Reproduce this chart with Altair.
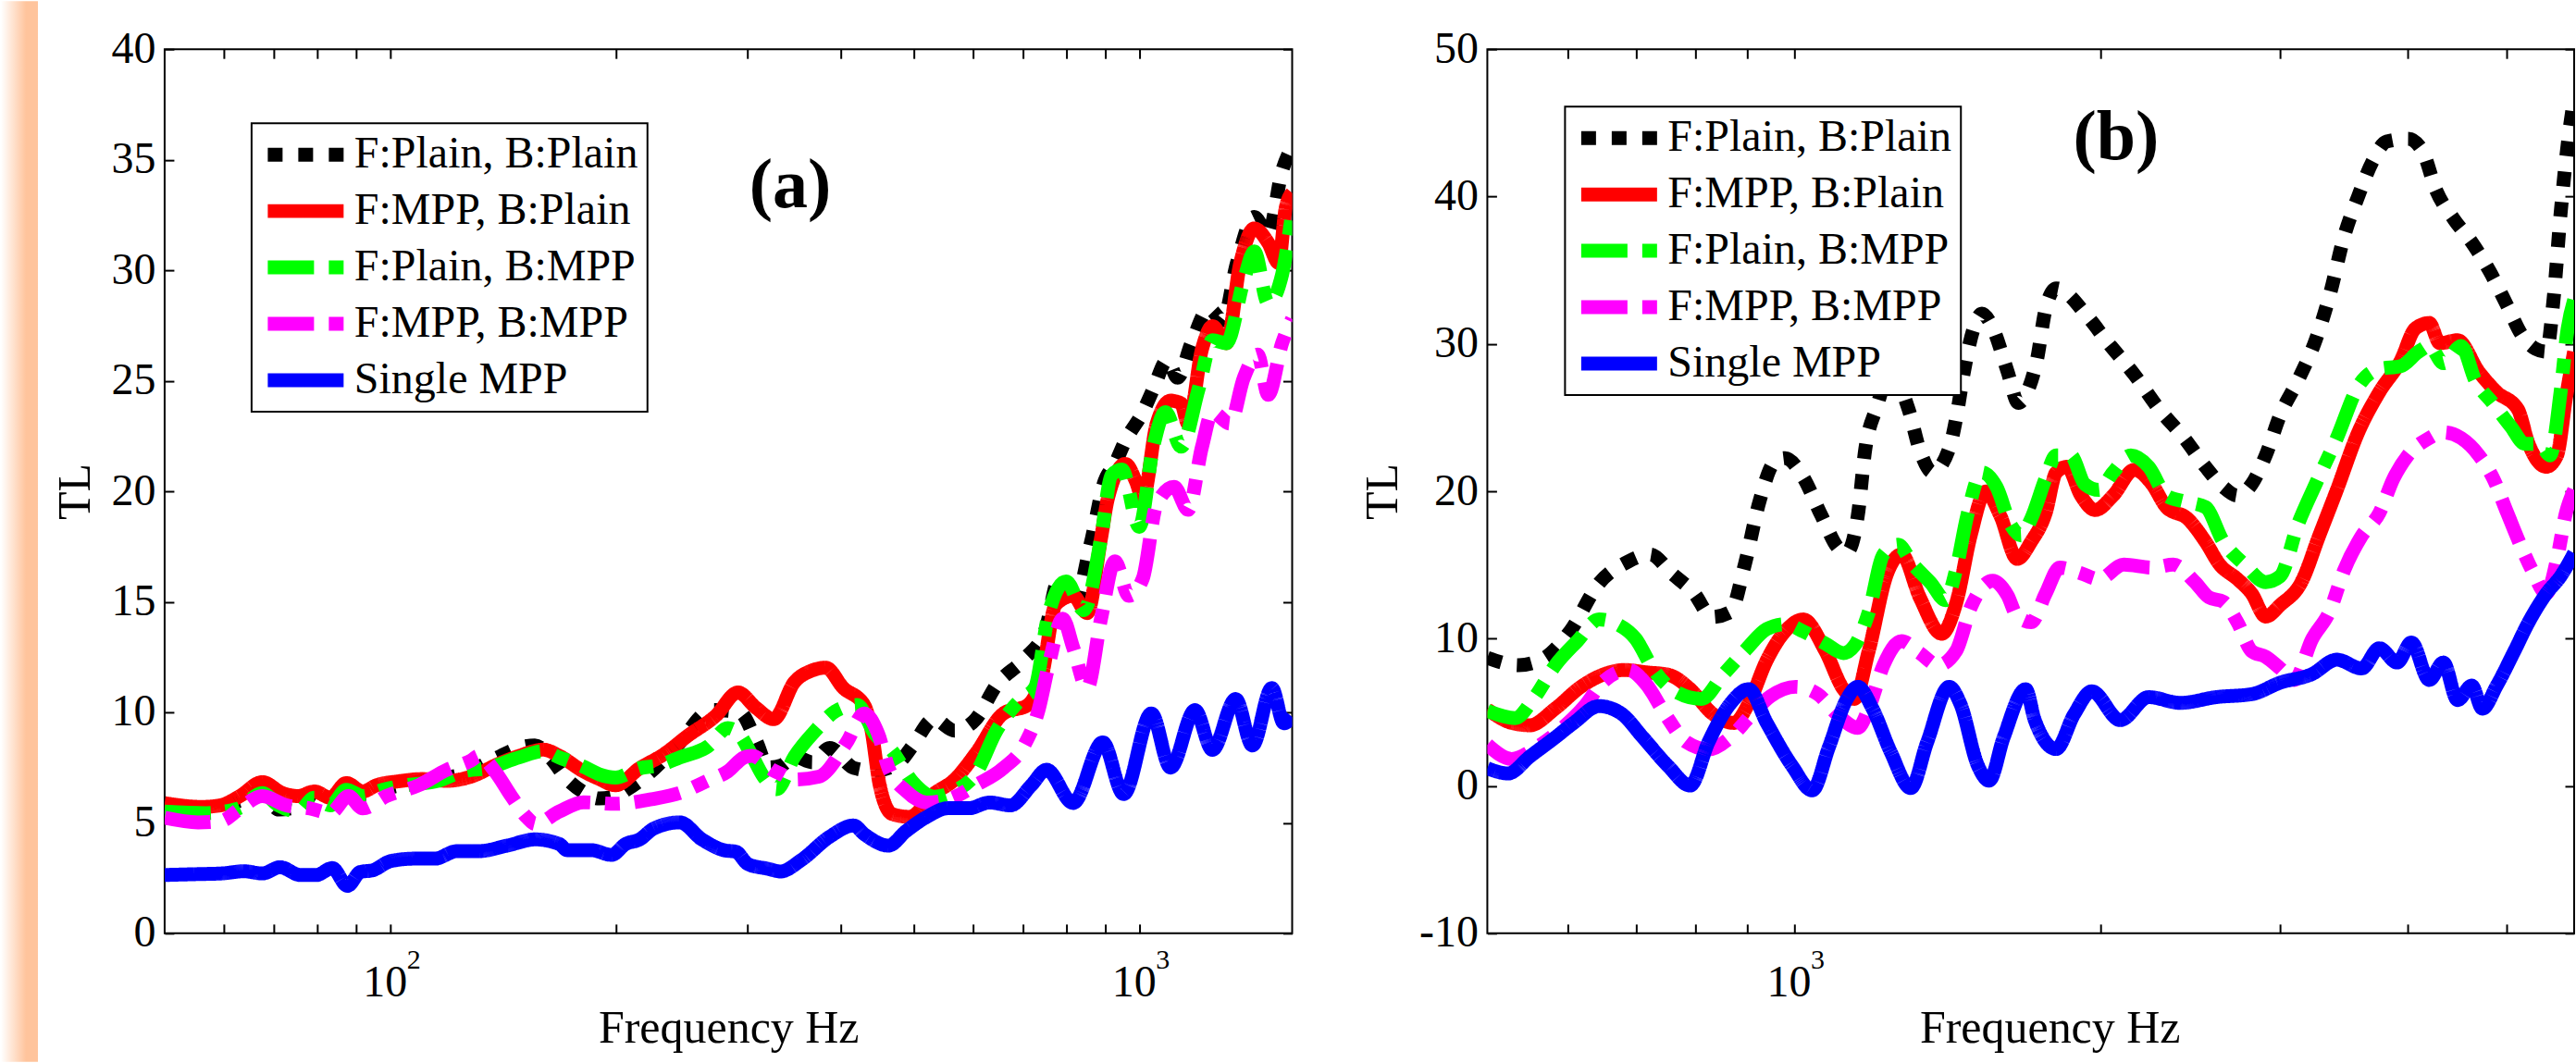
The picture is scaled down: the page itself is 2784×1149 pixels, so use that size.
import altair as alt
import pandas as pd

FONT = "Liberation Serif"

SERIES = ["F:Plain, B:Plain", "F:MPP, B:Plain", "F:Plain, B:MPP", "F:MPP, B:MPP", "Single MPP"]
COLORS = ["#000000", "#ff0000", "#00ff00", "#ff00ff", "#0000ff"]
DASHES = [[16, 17], [1, 0], [50, 16, 16, 16], [50, 16, 16, 16], [1, 0]]

# ---------------- panel (a): [frequency Hz, TL] ----------------
A_PLAIN_PLAIN = [(50, 5.7), (56, 5.6), (63, 6.0), (67.5, 6.4), (71, 5.6), (76, 5.8), (79, 6.2), (83, 5.8),
    (87, 6.6), (92, 6.3), (100, 6.6), (110, 6.9), (125, 7.2), (140, 8.0), (149, 8.4), (156, 8.5), (164, 7.9),
    (172, 7.0), (181, 6.4), (190, 6.1), (200, 6.2), (207, 6.5), (221, 7.2), (241, 8.45), (269, 10.1), (293, 10.0),
    (308, 8.7), (320, 7.5), (333, 7.6), (346.5, 8.0), (366, 7.74), (386, 8.39), (416, 7.48), (443, 7.35),
    (478, 7.74), (499, 8.52), (532, 9.69), (567, 9.17), (605, 9.69), (645, 11.24), (702, 12.41), (749, 13.71),
    (782, 16.05), (816, 14.75), (861, 17.61), (899, 20.46), (928, 21.24), (958, 22.28), (1011, 23.58),
    (1044, 24.62), (1090, 25.92), (1125, 25.14), (1174, 26.7), (1239, 28.25), (1293, 27.73), (1350, 30.33),
    (1424, 32.41), (1486, 31.63), (1551, 34.49), (1600, 35.6)]
A_MPP_PLAIN = [(50, 5.89), (56, 5.72), (59.3, 5.79), (63, 6.21), (67.5, 6.84), (71.8, 6.35), (75.4, 6.21),
    (79.2, 6.42), (83.2, 6.14), (87.4, 6.8), (91.9, 6.42), (95.9, 6.7), (102.7, 6.88), (110.5, 6.98), (119.1, 6.9),
    (128.2, 7.09), (139.8, 7.68), (148.7, 8.03), (160.1, 8.31), (168.2, 8.03), (181.1, 7.33), (190.3, 6.98),
    (199.9, 6.7), (215.3, 7.47), (231.9, 8.1), (249.7, 8.94), (272.2, 9.85), (291.3, 10.9), (308, 10.2),
    (325, 9.69), (346.5, 11.37), (365.6, 11.89), (381.5, 12.02), (402.5, 11.11), (429.3, 10.33), (438.5, 9.3),
    (450.4, 6.7), (467.7, 5.4), (493.4, 5.27), (531.8, 6.31), (567.1, 6.96), (604.8, 8.13), (658.8, 9.95),
    (710.1, 10.33), (741.2, 11.63), (773.6, 14.88), (816.2, 15.27), (852.1, 14.49), (889.1, 17.87),
    (908.2, 19.68), (958.3, 21.24), (989.5, 20.46), (1010.9, 19.68), (1055.1, 23.06), (1101.3, 24.1),
    (1137.4, 23.97), (1162, 23.06), (1212.9, 26.44), (1252.4, 27.47), (1307.1, 26.7), (1364.3, 30.33),
    (1424, 31.89), (1486.4, 31.24), (1535, 30.33), (1568.2, 32.8), (1600, 33.5)]
A_PLAIN_MPP = [(50, 5.51), (56.8, 5.44), (62.7, 5.65), (67.5, 6.35), (70.9, 5.79), (75.4, 5.51), (79.2, 6.14),
    (83.2, 5.79), (87.4, 6.49), (91.9, 6.21), (97.7, 6.49), (105.2, 6.7), (116.1, 6.91), (125.1, 7.33),
    (134.7, 7.47), (148.7, 7.96), (160.1, 8.24), (168.2, 7.96), (181.1, 7.54), (190.3, 7.19), (199.9, 7.05),
    (215.3, 7.47), (229, 7.61), (243.6, 7.96), (265.5, 8.45), (282.4, 9.29), (291.3, 9.08), (304.2, 8.03),
    (315.6, 7.05), (328, 6.52), (346.5, 8.0), (369.5, 9.17), (394, 10.07), (420.2, 10.33), (443.3, 9.04),
    (467.7, 8.26), (498.7, 6.83), (531.8, 6.18), (567.1, 6.44), (604.8, 7.22), (644.9, 9.17), (695, 10.59),
    (725.5, 11.11), (757.2, 14.49), (798.9, 15.92), (843, 14.62), (889.1, 17.87), (918.1, 20.72), (948, 20.98),
    (1000.2, 18.39), (1044, 22.02), (1083.7, 23.58), (1137.4, 22.02), (1199.9, 24.62), (1252.4, 26.83),
    (1307.1, 26.7), (1379.2, 29.55), (1424, 30.85), (1486.4, 28.51), (1551.3, 29.81), (1600, 32.6)]
A_MPP_MPP = [(50, 5.23), (55.4, 5.02), (59.6, 5.09), (62.7, 5.58), (67.5, 6.21), (72.7, 5.79), (78.2, 5.65),
    (83.2, 5.44), (88, 6.21), (91.9, 5.65), (98.9, 6.21), (109.2, 6.7), (119.1, 7.4), (128.2, 7.82),
    (131.4, 8.03), (138, 7.33), (145.1, 6.21), (152.4, 5.23), (156.2, 4.95), (168.2, 5.51), (181.1, 5.93),
    (199.9, 5.86), (223.4, 6.07), (243.6, 6.35), (265.5, 6.91), (282.4, 7.33), (296.8, 7.96), (304.2, 8.03),
    (323.6, 7.4), (332, 7.22), (346.5, 6.96), (373.5, 7.09), (406.9, 8.64), (429.3, 9.95), (448, 9.04),
    (462.7, 7.48), (488.1, 6.44), (520.5, 5.92), (555.1, 6.05), (604.8, 6.7), (658.8, 7.48), (702.5, 8.52),
    (733.3, 10.07), (757.2, 12.15), (790.4, 14.23), (816.2, 12.93), (852.1, 11.11), (889.1, 14.23),
    (927.9, 16.83), (968.5, 15.27), (1010.9, 16.05), (1055.1, 19.42), (1113.2, 20.2), (1162, 19.16),
    (1212.9, 22.02), (1252.4, 23.58), (1321.3, 23.06), (1379.2, 25.14), (1439.5, 26.18), (1486.4, 24.36),
    (1551.3, 26.7), (1600, 27.8)]
A_SINGLE = [(50, 2.64), (55.4, 2.68), (59.6, 2.71), (63.8, 2.81), (67.5, 2.71), (71.3, 2.99), (75.9, 2.64),
    (79.7, 2.64), (83.7, 2.95), (87.7, 2.15), (91.3, 2.78), (94.7, 2.85), (100.2, 3.27), (107.8, 3.38),
    (114.7, 3.38), (122.8, 3.72), (131.4, 3.72), (143.3, 3.97), (156.2, 4.25), (168.2, 4.04), (172.4, 3.76),
    (185.7, 3.76), (197.5, 3.55), (206.2, 4.04), (215.3, 4.25), (224.8, 4.74), (243.6, 5.02), (260.7, 4.25),
    (279, 3.76), (289.5, 3.69), (300.4, 3.13), (319.6, 2.92), (332, 2.8), (354, 3.32), (385.7, 4.36),
    (415.7, 4.88), (429.3, 4.49), (462.7, 3.97), (488.1, 4.62), (520.5, 5.27), (555.1, 5.66), (592, 5.66),
    (631.2, 5.92), (673, 5.79), (717.7, 6.7), (752, 7.4), (816, 5.9), (894, 8.64), (953, 6.3), (1038, 9.95),
    (1101, 7.5), (1187, 10.1), (1252, 8.3), (1345, 10.6), (1416, 8.5), (1503, 11.1), (1560, 9.5), (1600, 9.8)]

# ---------------- panel (b): [frequency Hz, TL] ----------------
B_PLAIN_PLAIN = [(500, 8.7), (536.9, 8.2), (568.8, 8.69), (602.6, 10.49), (643.7, 13.76), (687.5, 15.23),
    (722.3, 15.72), (759, 14.41), (797.5, 13.1), (830.9, 11.47), (866, 11.8), (895, 15.07), (924.9, 19.31),
    (956, 21.95), (980, 22.25), (1021, 20.95), (1064, 18.34), (1109, 16.05), (1127, 15.88), (1155, 18.34),
    (1175, 22.91), (1204, 25.6), (1244, 28.0), (1295, 25.6), (1330, 22.7), (1367, 21.3), (1420, 22.9),
    (1443, 25.0), (1467, 28.0), (1500, 31.0), (1529, 32.06), (1567, 31.08), (1620, 28.14), (1660, 26.0),
    (1700, 27.0), (1730, 28.8), (1766, 32.39), (1808, 33.77), (1944, 31.81), (2024, 30.25), (2158, 27.91),
    (2283, 25.56), (2415, 23.61), (2534, 21.66), (2638, 20.29), (2724, 19.7), (2813, 20.48), (2904, 22.44),
    (3000, 25.17), (3123, 27.52), (3250, 30.25), (3357, 33.37), (3466, 37.28), (3579, 40.02), (3695, 42.36),
    (3815, 43.73), (4005, 43.92), (4135, 43.14), (4269, 40.41), (4444, 38.45), (4626, 36.89), (4816, 34.94),
    (5012, 32.59), (5176, 30.64), (5345, 29.66), (5475, 29.47), (5564, 32.98), (5654, 38.84), (5745, 43.53),
    (5829, 46.66)]
B_MPP_PLAIN = [(500, 5.2), (528.2, 4.28), (550.4, 4.12), (583.1, 5.26), (617.7, 6.73), (649.1, 7.55),
    (681.6, 7.87), (716.4, 7.71), (752.6, 7.55), (790.9, 6.57), (830.9, 4.93), (873.1, 4.28), (902.4, 5.59),
    (940.2, 8.53), (979.7, 10.49), (1021, 11.3), (1073, 9.18), (1118, 6.57), (1146, 5.91), (1184, 9.18),
    (1234, 14.41), (1275, 15.72), (1329, 12.78), (1396, 10.33), (1443, 12.45), (1491, 17.03), (1542, 19.98),
    (1594, 18.34), (1656, 15.41), (1709, 16.58), (1766, 18.53), (1808, 21.27), (1853, 21.66), (1913, 19.7),
    (1975, 18.73), (2056, 19.7), (2158, 21.46), (2246, 20.48), (2320, 18.92), (2434, 18.14), (2534, 16.58),
    (2617, 15.02), (2724, 14.04), (2813, 13.06), (2904, 11.5), (3000, 12.28), (3148, 13.84), (3276, 16.97),
    (3410, 20.09), (3579, 24.0), (3754, 26.73), (3940, 28.88), (4070, 31.03), (4202, 31.42), (4304, 30.05),
    (4480, 30.25), (4701, 28.1), (4894, 26.73), (5134, 25.56), (5260, 23.22), (5475, 21.66), (5609, 22.44),
    (5723, 26.34), (5829, 29.47)]
B_PLAIN_MPP = [(500, 5.1), (532.5, 4.61), (554.9, 5.91), (583.1, 8.2), (612.7, 9.83), (643.7, 11.3),
    (670.7, 10.98), (698.9, 10.0), (728.3, 7.87), (765.3, 6.4), (810.8, 5.91), (852, 7.55), (895, 9.18),
    (940.2, 10.65), (979.7, 10.98), (1021, 10.49), (1073, 9.67), (1118, 9.02), (1146, 9.51), (1184, 11.8),
    (1224, 15.72), (1265, 16.37), (1307, 15.07), (1363, 13.76), (1408, 12.61), (1443, 14.74), (1479, 18.34),
    (1529, 21.28), (1580, 20.3), (1633, 17.68), (1670, 17.0), (1709, 18.14), (1766, 20.88), (1808, 22.44),
    (1868, 22.44), (1929, 20.48), (1992, 20.09), (2056, 21.27), (2141, 22.44), (2229, 21.66), (2320, 19.7),
    (2415, 19.31), (2534, 18.92), (2638, 16.58), (2768, 15.02), (2904, 13.84), (3000, 14.23), (3123, 17.75),
    (3250, 20.48), (3410, 23.61), (3579, 27.12), (3754, 28.3), (3940, 28.49), (4102, 29.47), (4202, 29.86),
    (4338, 28.69), (4516, 29.86), (4663, 27.52), (4855, 25.95), (5053, 24.39), (5218, 23.22), (5388, 23.22),
    (5520, 22.44), (5654, 26.73), (5745, 31.03), (5829, 32.98)]
B_MPP_MPP = [(500, 2.8), (528.2, 1.83), (559.5, 2.64), (592.8, 3.95), (622.9, 5.42), (649.1, 7.05),
    (687.5, 7.87), (716.4, 6.89), (746.4, 4.93), (784.5, 2.97), (824.1, 2.48), (866, 3.3), (902.4, 4.61),
    (948, 6.08), (1004, 6.73), (1055, 6.24), (1100, 4.93), (1155, 3.95), (1184, 5.26), (1224, 8.2),
    (1275, 9.83), (1329, 9.02), (1385, 8.2), (1443, 9.18), (1491, 12.12), (1567, 13.92), (1620, 12.94),
    (1656, 11.5), (1709, 11.11), (1766, 13.06), (1823, 14.82), (1913, 14.43), (1992, 14.04), (2107, 15.02),
    (2246, 14.82), (2357, 15.02), (2474, 13.84), (2554, 12.8), (2638, 12.5), (2724, 11.11), (2813, 9.15),
    (2904, 8.76), (3000, 7.98), (3097, 7.2), (3223, 9.94), (3357, 11.89), (3466, 14.63), (3607, 16.97),
    (3754, 18.53), (3877, 20.88), (4005, 22.44), (4202, 23.61), (4338, 24.0), (4516, 23.61), (4701, 22.44),
    (4855, 20.88), (5012, 18.53), (5176, 16.19), (5302, 14.63), (5475, 13.06), (5609, 15.41), (5723, 18.53),
    (5829, 20.09)]
B_SINGLE = [(500, 1.2), (524, 0.85), (550.4, 2.0), (583.1, 3.3), (607.7, 4.28), (643.7, 5.42), (676.3, 4.93),
    (710.6, 3.3), (752.6, 1.34), (790.9, 0.03), (824.1, 2.97), (866, 5.59), (902.4, 6.57), (940.2, 4.28),
    (996.2, 1.34), (1042, -0.3), (1082, 2.64), (1127, 5.91), (1155, 6.73), (1194, 5.26), (1244, 2.32),
    (1302, -0.14), (1351, 2.97), (1420, 6.73), (1456, 5.59), (1516, 1.34), (1554, 0.36), (1606, 3.3),
    (1688, 6.57), (1723, 4.47), (1808, 2.51), (1883, 4.86), (1960, 6.42), (2090, 4.47), (2229, 6.03),
    (2395, 5.64), (2596, 6.03), (2813, 6.23), (3000, 7.01), (3223, 7.59), (3410, 8.57), (3607, 7.98),
    (3754, 9.35), (3908, 8.38), (4036, 9.74), (4202, 7.2), (4338, 8.38), (4480, 5.83), (4626, 6.81),
    (4738, 5.25), (4894, 6.81), (5093, 9.15), (5260, 11.11), (5475, 13.06), (5654, 14.23), (5829, 15.8)]

A_X_DOMAIN = [50, 1600]
B_X_DOMAIN = [500, 5830]
A_Y_DOMAIN = [0, 40]
B_Y_DOMAIN = [-10, 50]
A_X_TICKS = [60, 70, 80, 90, 100, 200, 300, 400, 500, 600, 700, 800, 900, 1000]
B_X_TICKS = [600, 700, 800, 900, 1000, 2000, 3000, 4000, 5000]
A_Y_TICKS = [0, 5, 10, 15, 20, 25, 30, 35, 40]
B_Y_TICKS = [-10, 0, 10, 20, 30, 40, 50]
A_LABEL = ("(a)", 342, 33.8)
B_LABEL = ("(b)", 2070, 44.0)


def frame(series_pts):
    rows = []
    for i, (name, pts) in enumerate(zip(SERIES, series_pts)):
        for f, v in pts:
            rows.append({"series": name, "k": i, "f": f, "tl": v})
    return pd.DataFrame(rows)


DECADE_EXPR = "datum.value == 100 || datum.value == 1000 ? '10' : ''"


def panel(series_pts, xdom, ydom, xticks, yticks, label, W, H, legx, legy, ytp, title_x=None, strip=False):
    df = frame(series_pts)
    xs = alt.Scale(type="log", domain=xdom, nice=False)
    ys = alt.Scale(domain=ydom, nice=False, zero=False)
    leg = alt.Legend(title=None, orient="none", legendX=legx, legendY=legy, symbolType="stroke",
                     symbolSize=6724, symbolStrokeWidth=15, labelFont=FONT, labelFontSize=48,
                     labelColor="black", padding=10, rowPadding=13, clipHeight=48, labelOffset=4,
                     strokeColor="black", fillColor="white", cornerRadius=0, labelLimit=1000,
                     symbolOffset=0)
    xaxis_kw = dict(orient="bottom", values=xticks, labelExpr=DECADE_EXPR, offset=-10, tickSize=10,
                    tickWidth=2, tickColor="black", domain=False, grid=False, labelFont=FONT,
                    labelFontSize=48, labelColor="black", labelPadding=30, labelOffset=-6,
                    labelOverlap=False, labelFlush=False, labelBound=False,
                    title="Frequency Hz", titleFont=FONT, titleFontSize=50, titleFontWeight="normal",
                    titleColor="black", titlePadding=0)
    if title_x is not None:
        xaxis_kw["titleX"] = title_x
    lines = alt.Chart(df).mark_line(strokeWidth=15, clip=True, interpolate="monotone").encode(
        x=alt.X("f:Q", scale=xs, axis=alt.Axis(**xaxis_kw)),
        y=alt.Y("tl:Q", scale=ys, axis=alt.Axis(
            orient="left", values=yticks, labelExpr="'' + datum.value", offset=-10, tickSize=10,
            tickWidth=2, tickColor="black", domain=False, grid=False, labelFont=FONT, labelFontSize=48,
            labelColor="black", labelPadding=10, labelOverlap=False, labelFlush=False,
            title="TL", titleFont=FONT, titleFontSize=50, titleFontWeight="normal", titleColor="black",
            titlePadding=ytp)),
        color=alt.Color("series:N", scale=alt.Scale(domain=SERIES, range=COLORS), legend=leg),
        strokeDash=alt.StrokeDash("series:N", scale=alt.Scale(domain=SERIES, range=DASHES), legend=leg),
        detail="k:O",
    )
    guide_df = pd.DataFrame({"f": [xdom[0], xdom[1]], "tl": [ydom[0], ydom[1]]})
    ticks = alt.Chart(guide_df).mark_line(strokeOpacity=0).encode(
        x=alt.X("f:Q", scale=xs, axis=alt.Axis(orient="top", values=xticks, labels=False, offset=-10,
                                               tickSize=10, tickWidth=2, tickColor="black", domain=False,
                                               grid=False, title=None)),
        y=alt.Y("tl:Q", scale=ys, axis=alt.Axis(orient="right", values=yticks, labels=False, offset=-10,
                                                tickSize=10, tickWidth=2, tickColor="black", domain=False,
                                                grid=False, title=None)),
    )
    expo = alt.Chart(guide_df).mark_line(strokeOpacity=0).encode(
        x=alt.X("f:Q", scale=xs, axis=alt.Axis(orient="bottom", values=[100, 1000],
                                               labelExpr="datum.value == 100 ? '2' : '3'", ticks=False,
                                               tickSize=0, domain=False, grid=False, labelFont=FONT,
                                               labelFontSize=30, labelColor="black", labelPadding=14,
                                               labelOffset=25, labelOverlap=False, labelFlush=False,
                                               labelBound=False, title=None)),
        y=alt.Y("tl:Q", scale=ys, axis=None),
    )
    ann_df = pd.DataFrame({"label": [label[0]], "f": [label[1]], "tl": [label[2]]})
    ann = alt.Chart(ann_df).mark_text(font=FONT, fontSize=76, fontWeight="bold", color="black",
                                      align="center", baseline="middle").encode(
        x=alt.X("f:Q", scale=xs, axis=None), y=alt.Y("tl:Q", scale=ys, axis=None), text="label:N")
    layers = [lines, ticks, expo, ann]
    if strip:
        grad = alt.LinearGradient(gradient="linear", x1=0, x2=1, y1=0, y2=0,
                                  stops=[alt.GradientStop(color="#ffffff", offset=0),
                                         alt.GradientStop(color="#ffc49c", offset=0.68),
                                         alt.GradientStop(color="#ffc49c", offset=1)])
        band = alt.Chart(pd.DataFrame({"k": [0]})).mark_rect(fill=grad).encode(
            x=alt.value(-177), x2=alt.value(-137), y=alt.value(-52), y2=alt.value(1095))
        layers = [band] + layers
    return alt.layer(*layers).resolve_axis(x="independent", y="independent").properties(width=W, height=H)


left = panel([A_PLAIN_PLAIN, A_MPP_PLAIN, A_PLAIN_MPP, A_MPP_MPP, A_SINGLE], A_X_DOMAIN, A_Y_DOMAIN,
             A_X_TICKS, A_Y_TICKS, A_LABEL, 1219, 956, 94, 80, 13, strip=True)
right = panel([B_PLAIN_PLAIN, B_MPP_PLAIN, B_PLAIN_MPP, B_MPP_MPP, B_SINGLE], B_X_DOMAIN, B_Y_DOMAIN,
              B_X_TICKS, B_Y_TICKS, B_LABEL, 1175, 956, 84, 62, 14, title_x=608)

chart = (
    alt.hconcat(left, right, spacing=211, bounds="flush")
    .resolve_scale(color="independent", strokeDash="independent")
    .resolve_legend(color="independent", strokeDash="independent")
    .properties(padding=0, background="white")
    .configure_view(stroke="black", strokeWidth=2)
    .configure_legend(strokeWidth=2)
)

chart.save("out.html", embed_options={"renderer": "svg", "actions": False})
